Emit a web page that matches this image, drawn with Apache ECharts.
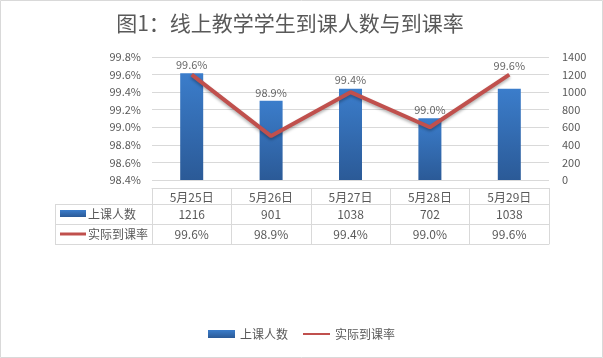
<!DOCTYPE html>
<html>
<head>
<meta charset="utf-8">
<script src="https://cdn.jsdelivr.net/npm/echarts@6/dist/echarts.min.js"></script>
<style>
html,body{margin:0;padding:0;background:#fff;}
#c{width:603px;height:358px;}
</style>
</head>
<body>
<div id="c"></div>
<script>
// ---- data ----
const categories = ['5月25日', '5月26日', '5月27日', '5月28日', '5月29日'];
const attendance = [1216, 901, 1038, 702, 1038];
const rates = [99.6, 98.9, 99.4, 99.0, 99.6];
const seriesNames = ['上课人数', '实际到课率'];
const titleText = '图1：线上教学学生到课人数与到课率';

// ---- layout ----
const W = 603, H = 358;
const gL = 152, gR = 549, gT = 57, gB = 180;
const tableGap = 8;
const rowH = [16, 20, 20];
const headerLeft = 55;
const FONT = '"Noto Sans CJK SC", "Microsoft YaHei", sans-serif';
const TXT = '#595959';
const LINE = '#d9d9d9';
const RED = '#C0504D';

const fmtRate = v => v.toFixed(1) + '%';
const rateScaled = rates.map(v => Math.round(v * 10));

function tableAxis(offset, tickLen, labels, margin, show) {
  return {
    type: 'category', data: categories, position: 'bottom', offset: offset,
    boundaryGap: true,
    axisLine: { show: true, onZero: false, lineStyle: { color: LINE, width: 1 } },
    axisTick: { show: tickLen > 0, interval: 0, length: tickLen, lineStyle: { color: LINE } },
    axisLabel: { show: show, interval: 0, margin: margin, color: TXT, fontSize: 12, fontFamily: FONT,
      formatter: (v, i) => labels ? String(labels[i]) : v },
    splitLine: { show: false }
  };
}

const rowTops = [gB + tableGap];
rowH.forEach((h, i) => rowTops.push(rowTops[i] + h));

const xAxes = [
  tableAxis(rowTops[0] - gB, rowH[0], categories, 3, true),
  tableAxis(rowTops[1] - gB, rowH[1], attendance, 4, true),
  tableAxis(rowTops[2] - gB, rowH[2], rates.map(fmtRate), 4, true),
  tableAxis(rowTops[3] - gB, 0, null, 0, false)
];

const mkGrad = () => new echarts.graphic.LinearGradient(0, 0, 0, 1, [
  { offset: 0, color: '#3B7DCB' }, { offset: 1, color: '#2B5A97' }
]);

// row header graphics (table left column) + chart border
const graphics = [
  { type: 'rect', shape: { x: 0.5, y: 0.5, width: W - 1, height: H - 1 }, style: { fill: 'none', stroke: LINE, lineWidth: 1 }, silent: true }
];
for (let r = 1; r <= 3; r++) {
  graphics.push({ type: 'line', shape: { x1: headerLeft, y1: rowTops[r] + 0.5, x2: gL, y2: rowTops[r] + 0.5 }, style: { stroke: LINE, lineWidth: 1 } });
}
graphics.push({ type: 'line', shape: { x1: headerLeft + 0.5, y1: rowTops[1], x2: headerLeft + 0.5, y2: rowTops[3] }, style: { stroke: LINE, lineWidth: 1 } });
const r1c = (rowTops[1] + rowTops[2]) / 2, r2c = (rowTops[2] + rowTops[3]) / 2;
graphics.push({ type: 'rect', shape: { x: 60, y: r1c - 4, width: 26, height: 7 }, style: { fill: mkGrad() } });
graphics.push({ type: 'text', x: 88, y: r1c, style: { text: seriesNames[0], fill: TXT, font: '12px ' + FONT, textVerticalAlign: 'middle', verticalAlign: 'middle' } });
graphics.push({ type: 'line', shape: { x1: 60, y1: r2c, x2: 86, y2: r2c }, style: { stroke: RED, lineWidth: 3 } });
graphics.push({ type: 'text', x: 88, y: r2c, style: { text: seriesNames[1], fill: TXT, font: '12px ' + FONT, textVerticalAlign: 'middle', verticalAlign: 'middle' } });

const chart = echarts.init(document.getElementById('c'), null, { renderer: 'canvas' });
const option = {
  animation: false,
  backgroundColor: '#fff',
  textStyle: { fontFamily: FONT },
  title: {
    text: titleText, left: 285, textAlign: 'center', top: 8,
    textStyle: { fontSize: 21, fontWeight: 'normal', color: TXT, fontFamily: FONT }
  },
  legend: {
    bottom: 13, left: 'center', itemWidth: 27, itemHeight: 8, itemGap: 14,
    textStyle: { color: TXT, fontSize: 12, fontFamily: FONT },
    data: [
      { name: seriesNames[0], icon: 'rect' },
      { name: seriesNames[1], itemStyle: { color: 'rgba(0,0,0,0)', borderColor: 'rgba(0,0,0,0)', borderWidth: 0 } }
    ]
  },
  grid: { left: gL, right: W - gR, top: gT, bottom: H - gB, containLabel: false },
  xAxis: xAxes,
  yAxis: [
    {
      type: 'value', min: 984, max: 998, interval: 2, position: 'left',
      axisLine: { show: false }, axisTick: { show: false },
      axisLabel: { margin: 11, color: TXT, fontSize: 11, fontFamily: FONT, formatter: v => fmtRate(v / 10) },
      splitLine: { show: true, lineStyle: { color: LINE } }
    },
    {
      type: 'value', min: 0, max: 1400, interval: 200, position: 'right',
      axisLine: { show: false }, axisTick: { show: false },
      axisLabel: { margin: 13, color: TXT, fontSize: 11, fontFamily: FONT, formatter: v => String(v) },
      splitLine: { show: false }
    }
  ],
  series: [
    {
      name: seriesNames[0], type: 'bar', xAxisIndex: 0, yAxisIndex: 1,
      data: attendance, barWidth: 23,
      itemStyle: { color: mkGrad() }
    },
    {
      name: seriesNames[1], type: 'line', xAxisIndex: 0, yAxisIndex: 0,
      data: rateScaled,
      symbol: 'none', z: 5,
      lineStyle: { color: RED, width: 4, shadowColor: 'rgba(0,0,0,0.3)', shadowBlur: 3, shadowOffsetY: 2 },
      itemStyle: { color: RED }
    },
    {
      name: 'labels', type: 'scatter', xAxisIndex: 0, yAxisIndex: 0,
      data: rateScaled, symbolSize: 0, silent: true, z: 6,
      itemStyle: { color: 'rgba(0,0,0,0)' },
      label: { show: true, position: 'top', distance: 3, color: '#404040', fontSize: 11, fontFamily: FONT,
        formatter: p => fmtRate(rates[p.dataIndex]) }
    }
  ],
  graphic: graphics
};
chart.setOption(option);

// place each rate label above the higher of bar top / line point
const labelData = rateScaled.map((v, i) => {
  const pb = chart.convertToPixel({ xAxisIndex: 0, yAxisIndex: 1 }, [i, attendance[i]]);
  const pl = chart.convertToPixel({ xAxisIndex: 0, yAxisIndex: 0 }, [i, v]);
  const dy = Math.min(0, pb[1] - pl[1]);
  return { value: [i, v], label: { offset: [0, dy] } };
});
chart.setOption({ series: [{}, {}, { data: labelData }] });
</script>
</body>
</html>
